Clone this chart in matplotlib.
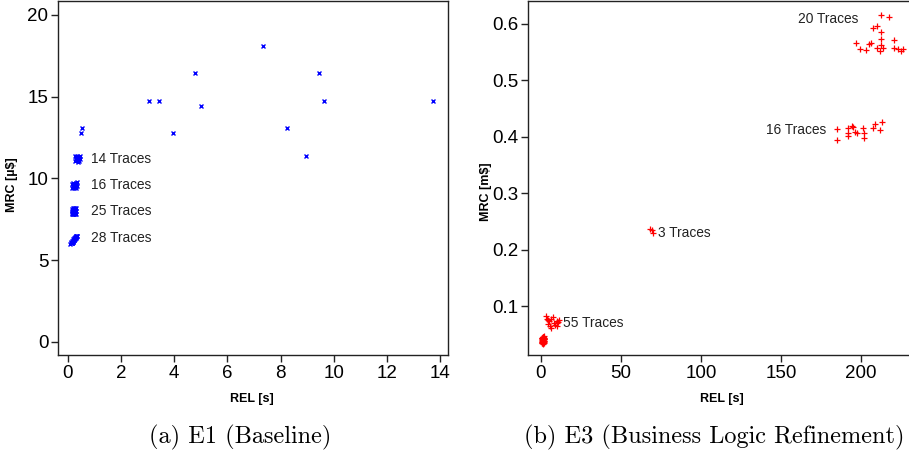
import matplotlib
matplotlib.use("Agg")
import matplotlib.pyplot as plt

# ---------------- data: E1 (Baseline) ----------------
e1_rel = [0.48, 0.54, 3.06, 3.42, 3.94, 4.80, 5.02, 7.35, 8.23, 8.97, 9.45, 9.65, 13.75]
e1_mrc = [12.76, 13.07, 14.76, 14.76, 12.76, 16.42, 14.43, 18.07, 13.07, 11.40, 16.42, 14.76, 14.76]

e1_c14_rel = [0.28, 0.33, 0.38, 0.43, 0.30, 0.36, 0.42, 0.27, 0.34, 0.40, 0.45, 0.31, 0.37, 0.44]
e1_c14_mrc = [11.05, 11.10, 11.00, 11.08, 11.20, 11.25, 11.22, 11.35, 11.38, 11.32, 11.40, 11.15, 11.30, 11.18]

e1_c16_rel = [0.16, 0.20, 0.24, 0.28, 0.32, 0.18, 0.22, 0.26, 0.30, 0.34, 0.17, 0.21, 0.25, 0.29, 0.33, 0.23]
e1_c16_mrc = [9.42, 9.45, 9.40, 9.46, 9.43, 9.55, 9.58, 9.52, 9.56, 9.54, 9.68, 9.70, 9.66, 9.72, 9.75, 9.62]

e1_c25_rel = [0.15, 0.19, 0.23, 0.27, 0.30, 0.16, 0.20, 0.24, 0.28, 0.17, 0.21, 0.25, 0.29, 0.18, 0.22,
              0.26, 0.15, 0.19, 0.23, 0.27, 0.30, 0.20, 0.24, 0.28, 0.22]
e1_c25_mrc = [7.80, 7.82, 7.81, 7.83, 7.80, 7.90, 7.92, 7.88, 7.91, 7.98, 8.00, 7.97, 8.01, 8.08, 8.10,
              8.07, 8.15, 8.18, 8.16, 8.19, 8.17, 7.85, 7.95, 8.05, 8.12]

e1_c28_rel = [0.10, 0.12, 0.15, 0.13, 0.17, 0.16, 0.19, 0.21, 0.18, 0.22, 0.24, 0.20, 0.25, 0.27, 0.23,
              0.28, 0.30, 0.26, 0.31, 0.33, 0.29, 0.34, 0.14, 0.18, 0.22, 0.26, 0.30, 0.32]
e1_c28_mrc = [6.00, 6.05, 6.02, 6.10, 6.08, 6.15, 6.12, 6.18, 6.20, 6.25, 6.22, 6.28, 6.30, 6.33, 6.35,
              6.38, 6.36, 6.42, 6.44, 6.46, 6.48, 6.50, 6.07, 6.14, 6.24, 6.32, 6.40, 6.45]

e1_labels = ["14 Traces", "16 Traces", "25 Traces", "28 Traces"]
e1_label_x = [0.89, 0.89, 0.89, 0.89]
e1_label_y = [11.16, 9.57, 8.00, 6.34]

# ---------------- data: E3 (Business Logic Refinement) ----------------
e3_c20_rel = [212.3, 217.3, 207.7, 210.0, 212.3, 212.3, 220.6, 197.0, 205.0, 199.6, 203.3, 209.8,
              212.3, 212.1, 220.8, 223.3, 224.8, 226.4, 213.5, 206.0]
e3_c20_mrc = [0.616, 0.613, 0.592, 0.596, 0.585, 0.574, 0.572, 0.567, 0.564, 0.555, 0.553, 0.557,
              0.562, 0.552, 0.558, 0.556, 0.552, 0.556, 0.557, 0.566]

e3_c16_rel = [185.0, 185.0, 191.7, 192.0, 192.0, 194.2, 195.2, 196.3, 197.3, 201.1, 202.1, 201.7,
              207.7, 209.0, 213.0, 212.1]
e3_c16_mrc = [0.413, 0.395, 0.415, 0.407, 0.401, 0.420, 0.417, 0.409, 0.407, 0.416, 0.407, 0.398,
              0.416, 0.423, 0.426, 0.412]

e3_c3_rel = [68.1, 69.2, 69.8]
e3_c3_mrc = [0.236, 0.234, 0.229]

e3_c55_rel = [3.1, 7.3, 5.2, 9.8, 5.6, 9.8, 3.8, 4.6, 6.5, 8.1, 10.2, 11.0, 4.2, 6.0, 8.8, 10.6,
              0.6, 0.9, 1.2, 1.5, 1.8, 0.7, 1.0, 1.3, 1.6, 1.9, 0.8, 1.1, 1.4, 1.7, 0.5, 1.0,
              1.5, 2.0, 0.9, 1.2, 1.6, 0.7, 1.3, 1.8, 1.1, 1.4, 0.6, 1.0, 1.7, 1.2, 0.8, 1.5,
              1.9, 1.3, 0.9, 1.6, 1.1, 1.4, 1.0]
e3_c55_mrc = [0.082, 0.081, 0.073, 0.073, 0.064, 0.065, 0.077, 0.076, 0.078, 0.070, 0.070, 0.075,
              0.068, 0.061, 0.067, 0.072,
              0.034, 0.035, 0.036, 0.037, 0.038, 0.039, 0.040, 0.041, 0.042, 0.043, 0.044, 0.045,
              0.046, 0.047, 0.036, 0.038, 0.040, 0.042, 0.044, 0.033, 0.035, 0.037, 0.039, 0.041,
              0.043, 0.045, 0.041, 0.039, 0.037, 0.035, 0.040, 0.042, 0.038, 0.036, 0.044, 0.043,
              0.046, 0.039, 0.034]

e3_labels = ["20 Traces", "16 Traces", "3 Traces", "55 Traces"]
e3_label_x = [198.5, 178.5, 72.9, 13.5]
e3_label_y = [0.609, 0.4115, 0.229, 0.0694]
e3_label_ha = ["right", "right", "left", "left"]

e1_xticks = [0, 2, 4, 6, 8, 10, 12, 14]
e1_yticks = [0, 5, 10, 15, 20]
e3_xticks = [0, 50, 100, 150, 200]
e3_yticks = [0.1, 0.2, 0.3, 0.4, 0.5, 0.6]

# ---------------- figure ----------------
plt.rcParams['font.family'] = ['Liberation Sans', 'DejaVu Sans']
W, H = 909, 454
fig = plt.figure(figsize=(W / 100, H / 100), dpi=100)

def axes_px(l, t, r, b):
    return fig.add_axes([l / W, 1 - b / H, (r - l) / W, (b - t) / H])

ax1 = axes_px(58, 1, 448, 355)
ax2 = axes_px(528, 1, 916, 355)

tick_fs = 13.5
lab_fs = 9
ann_fs = 9.9

for ax in (ax1, ax2):
    for s in ax.spines.values():
        s.set_linewidth(1.0)
        s.set_color('#222222')
    ax.tick_params(direction='out', length=5, width=1.0, labelsize=tick_fs, pad=2,
                   color='#222222')

# left panel
blue = '#0000ff'
for xs, ys in [(e1_rel, e1_mrc), (e1_c14_rel, e1_c14_mrc), (e1_c16_rel, e1_c16_mrc),
               (e1_c25_rel, e1_c25_mrc), (e1_c28_rel, e1_c28_mrc)]:
    ax1.plot(xs, ys, linestyle='none', marker='x', markersize=3.3, markeredgewidth=1.0, color=blue)
for t, x, y in zip(e1_labels, e1_label_x, e1_label_y):
    ax1.text(x, y, t, fontsize=ann_fs, ha='left', va='center', color='#222222')
ax1.set_xlim(-0.37, 14.3)
ax1.set_ylim(-0.8, 20.85)
ax1.set_xticks(e1_xticks)
ax1.set_yticks(e1_yticks)
ax1.set_xlabel('REL [s]', fontsize=lab_fs, fontweight='bold')
ax1.set_ylabel('MRC [µ$]', fontsize=lab_fs, fontweight='bold')
ax1.xaxis.set_label_coords((252 - 58) / (448 - 58), -(393 - 355) / 354)
ax1.yaxis.set_label_coords(-(58 - 18) / 390, (355 - 185) / 354)

# right panel
red = '#ff0000'
for xs, ys in [(e3_c20_rel, e3_c20_mrc), (e3_c16_rel, e3_c16_mrc), (e3_c3_rel, e3_c3_mrc),
               (e3_c55_rel, e3_c55_mrc)]:
    ax2.plot(xs, ys, linestyle='none', marker='+', markersize=4.6, markeredgewidth=0.9, color=red)
for t, x, y, ha in zip(e3_labels, e3_label_x, e3_label_y, e3_label_ha):
    ax2.text(x, y, t, fontsize=ann_fs, ha=ha, va='center', color='#222222')
ax2.set_xlim(-8.1, 234.4)
ax2.set_ylim(0.0134, 0.6406)
ax2.set_xticks(e3_xticks)
ax2.set_yticks(e3_yticks)
ax2.set_xlabel('REL [s]', fontsize=lab_fs, fontweight='bold')
ax2.set_ylabel('MRC [m$]', fontsize=lab_fs, fontweight='bold')
ax2.xaxis.set_label_coords((722 - 528) / (916 - 528), -(393 - 355) / 354)
ax2.yaxis.set_label_coords(-(528 - 492) / 388, (355 - 192) / 354)

# captions
cap_fs = 17.5
fig.text(240 / W, 1 - 437 / H, '(a) E1 (Baseline)', ha='center', va='center',
         fontsize=cap_fs, family=['cmr10', 'DejaVu Serif'])
fig.text(714.5 / W, 1 - 437 / H, '(b) E3 (Business Logic Refinement)', ha='center', va='center',
         fontsize=cap_fs, family=['cmr10', 'DejaVu Serif'])

fig.savefig('out.png', dpi=100)
